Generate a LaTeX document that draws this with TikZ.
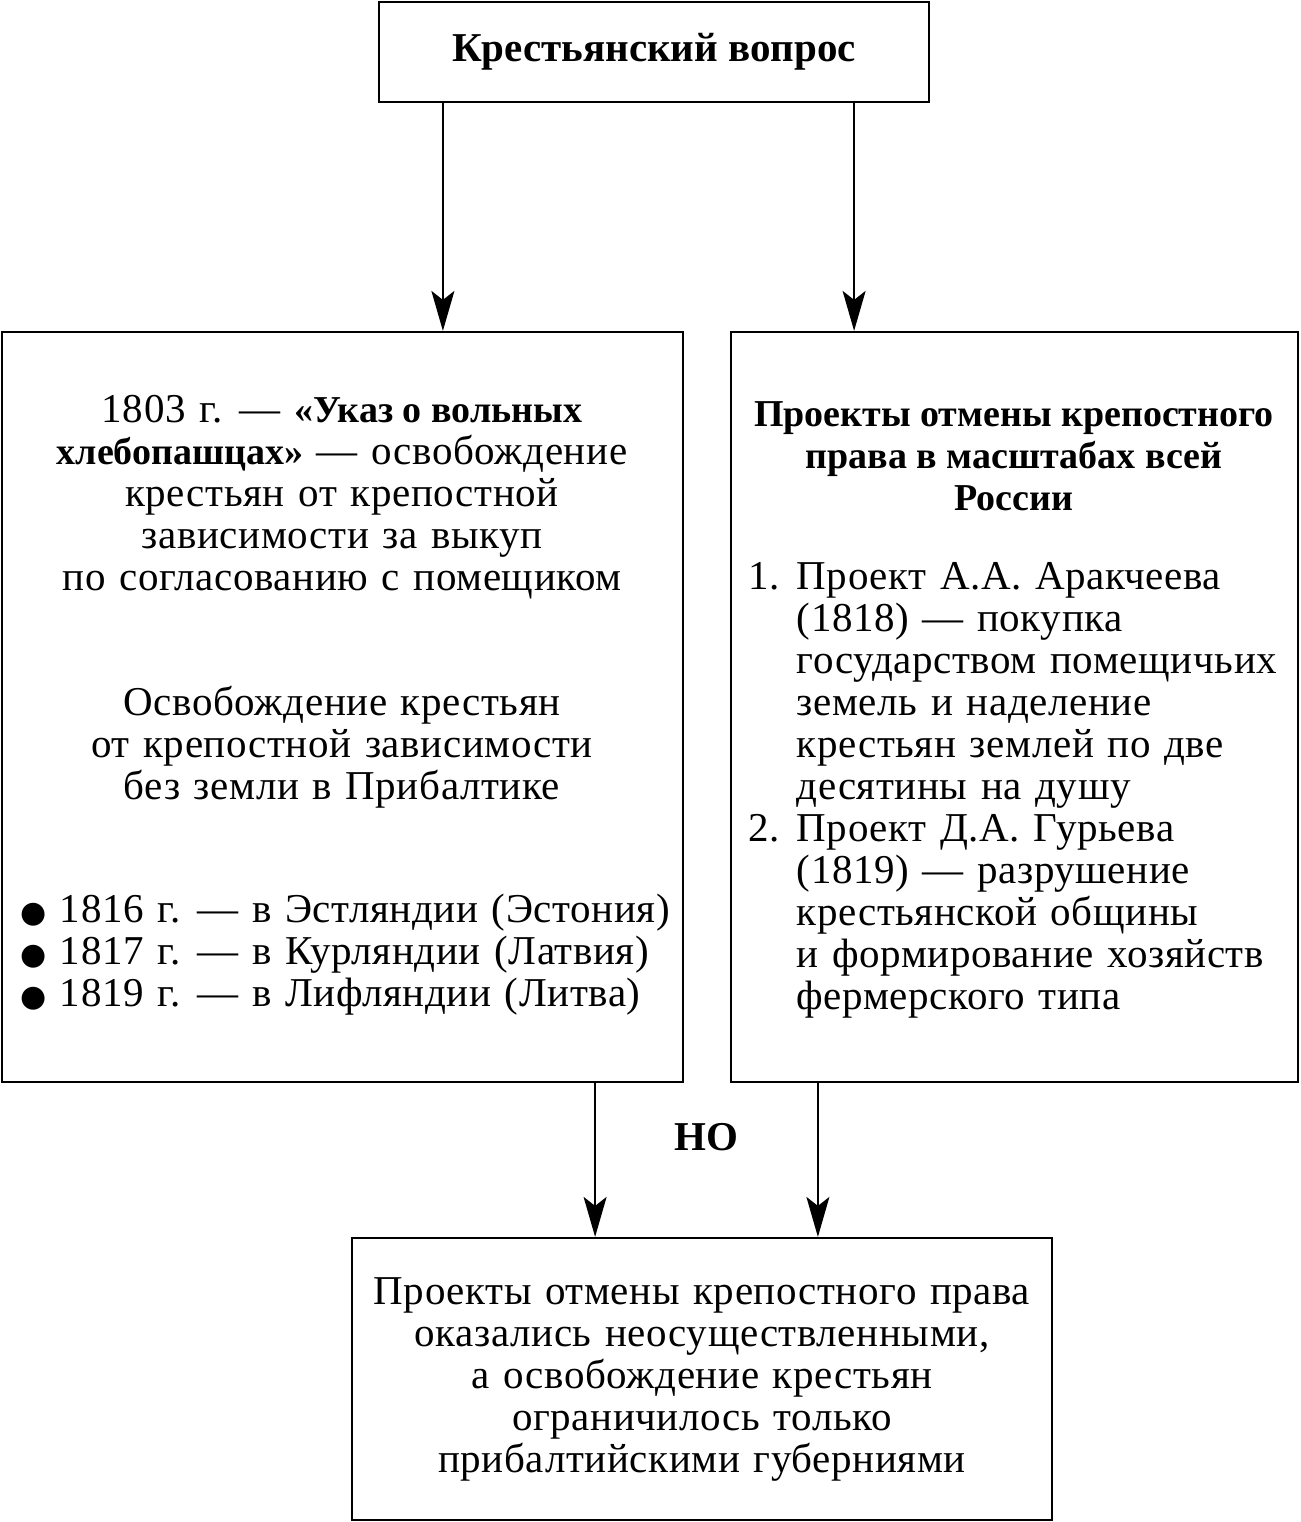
\documentclass[tikz,border=0pt]{standalone}
\usepackage{fontspec}
\setmainfont{Liberation Serif}[LetterSpace=1.5,WordSpace=1.25,BoldFeatures={LetterSpace=0,WordSpace=1}]
\newfontfamily\dejavu{DejaVu Sans}
\newcommand{\bfin}[1]{{\fontsize{38}{42}\selectfont\bfseries #1}}
\usetikzlibrary{arrows.meta}
\begin{document}
\begin{tikzpicture}[x=1pt,y=-1pt,
  box/.style={draw, line width=2.2pt, inner sep=0pt},
  txt/.style={font=\fontsize{41}{42}\selectfont, inner sep=0pt, align=center},
  btxt/.style={font=\fontsize{41}{42}\selectfont\bfseries, inner sep=0pt, align=center},
  arr/.style={line width=1.8pt, -{Stealth[length=40pt,width=23pt,inset=9pt]}}]
\useasboundingbox (0,0) rectangle (1300,1522);
\node[box, btxt, minimum width=550pt, minimum height=100pt] (top) at (654,52) {Крестьянский вопрос};
\node[box, minimum width=681pt, minimum height=750pt] (lbox) at (342.5,707) {};
\node[box, minimum width=567pt, minimum height=750pt] (rbox) at (1014.5,707) {};
\node[box, txt, minimum width=700pt, minimum height=282pt] (bbox) at (702,1379) {Проекты отмены крепостного права\\оказались неосуществленными,\\а освобождение крестьян\\ограничилось только\\прибалтийскими губерниями};
\node[txt] (l1) at (342,497) {1803 г. — \bfin{«Указ о вольных}\\\bfin{хлебопашцах»} — освобождение\\крестьян от крепостной\\зависимости за выкуп\\по согласованию с помещиком};
\node[txt] (l2) at (342,747) {Освобождение крестьян\\от крепостной зависимости\\без земли в Прибалтике};
\node[txt, align=left, anchor=west] (l3) at (20,955) {{\dejavu\fontsize{30}{42}\selectfont ●} 1816 г. — в Эстляндии (Эстония)\\{\dejavu\fontsize{30}{42}\selectfont ●} 1817 г. — в Курляндии (Латвия)\\{\dejavu\fontsize{30}{42}\selectfont ●} 1819 г. — в Лифляндии (Литва)};
\node[btxt, font=\fontsize{38}{42}\selectfont\bfseries] (r1) at (1014,456) {Проекты отмены крепостного\\права в масштабах всей\\России};
\node[txt, align=left, anchor=west] (r2) at (748,790) {1. Проект А.А. Аракчеева\\\phantom{1. }(1818) — покупка\\\phantom{1. }государством помещичьих\\\phantom{1. }земель и наделение\\\phantom{1. }крестьян землей по две\\\phantom{1. }десятины на душу\\2. Проект Д.А. Гурьева\\\phantom{2. }(1819) — разрушение\\\phantom{2. }крестьянской общины\\\phantom{2. }и формирование хозяйств\\\phantom{2. }фермерского типа};
\node[btxt] (no) at (706,1137) {НО};
\draw[arr] ([xshift=65pt]top.south west) -- ([xshift=65pt]top.south west |- lbox.north);
\draw[arr] ([xshift=-76pt]top.south east) -- ([xshift=-76pt]top.south east |- rbox.north);
\draw[arr] ([xshift=-89pt]lbox.south east) -- ([xshift=-89pt]lbox.south east |- bbox.north);
\draw[arr] ([xshift=88pt]rbox.south west) -- ([xshift=88pt]rbox.south west |- bbox.north);
\end{tikzpicture}
\end{document}
